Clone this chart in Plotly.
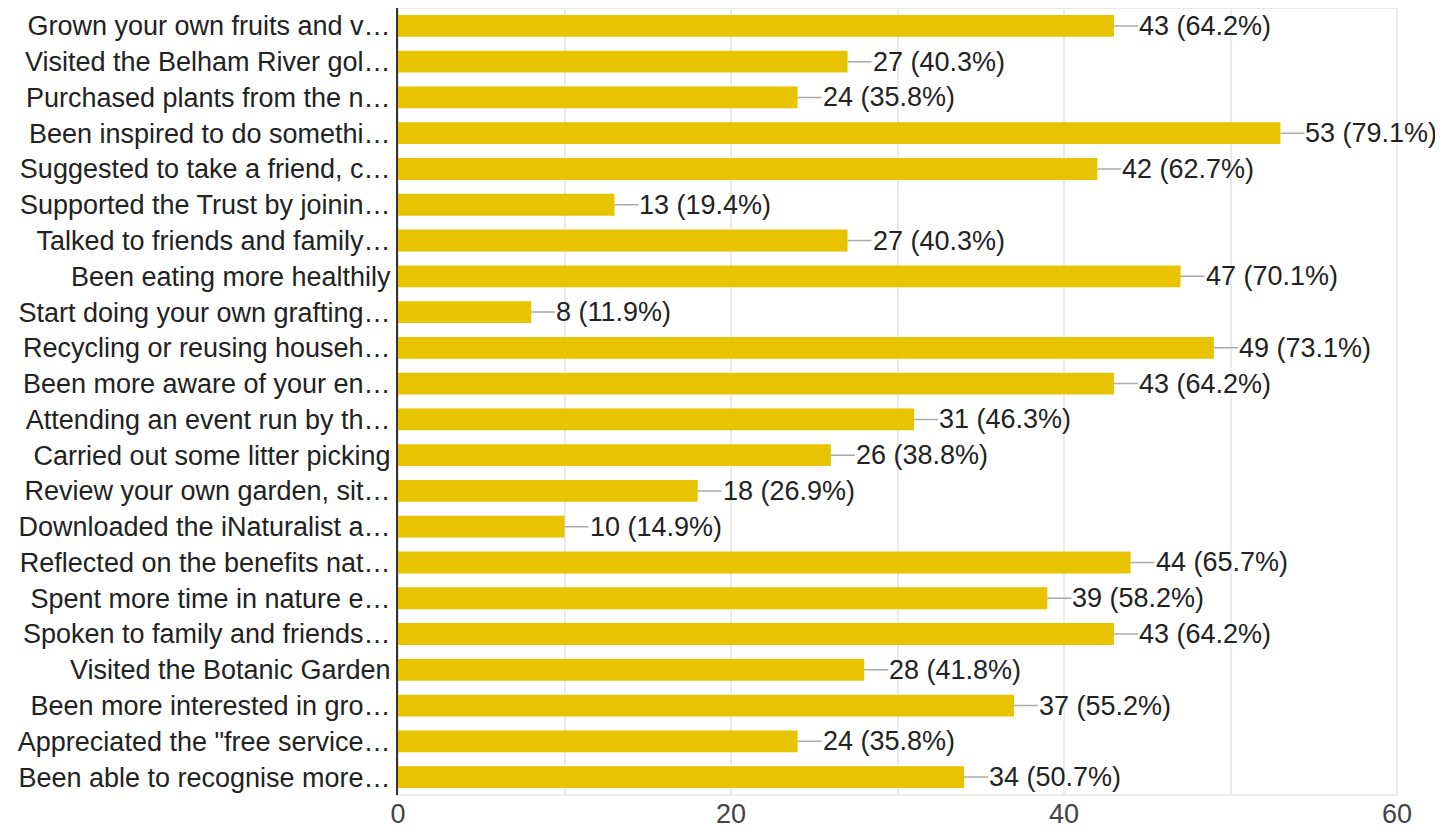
import plotly.graph_objects as go

categories = [
    "Grown your own fruits and v…",
    "Visited the Belham River gol…",
    "Purchased plants from the n…",
    "Been inspired to do somethi…",
    "Suggested to take a friend, c…",
    "Supported the Trust by joinin…",
    "Talked to friends and family…",
    "Been eating more healthily",
    "Start doing your own grafting…",
    "Recycling or reusing househ…",
    "Been more aware of your en…",
    "Attending an event run by th…",
    "Carried out some litter picking",
    "Review your own garden, sit…",
    "Downloaded the iNaturalist a…",
    "Reflected on the benefits nat…",
    "Spent more time in nature e…",
    "Spoken to family and friends…",
    "Visited the Botanic Garden",
    "Been more interested in gro…",
    "Appreciated the \"free service…",
    "Been able to recognise more…",
]
counts = [43, 27, 24, 53, 42, 13, 27, 47, 8, 49, 43, 31, 26, 18, 10, 44, 39, 43, 28, 37, 24, 34]
percents = ["64.2%", "40.3%", "35.8%", "79.1%", "62.7%", "19.4%", "40.3%", "70.1%", "11.9%", "73.1%",
            "64.2%", "46.3%", "38.8%", "26.9%", "14.9%", "65.7%", "58.2%", "64.2%", "41.8%", "55.2%",
            "35.8%", "50.7%"]
x_ticks = [0, 20, 40, 60]

FONT = "Liberation Sans, Arial, sans-serif"
BAR = "#E8C400"

fig = go.Figure(go.Bar(
    x=counts, y=categories, orientation="h",
    marker=dict(color=BAR, line=dict(width=0)),
    hoverinfo="skip",
))

for c, v, p in zip(categories, counts, percents):
    fig.add_annotation(
        x=v, y=c, xref="x", yref="y",
        text=f"{v} ({p})", showarrow=True, arrowhead=0,
        arrowcolor="#aaaaaa", arrowwidth=1.5,
        ax=24, ay=0, xanchor="left", yanchor="middle",
        borderpad=0, standoff=0,
        font=dict(family=FONT, size=27, color="#222222"),
    )

fig.add_shape(type="rect", xref="paper", yref="paper", x0=0, x1=1, y0=0, y1=1,
              line=dict(color="#e4e4e4", width=1.5), layer="below")

fig.update_layout(
    width=1443, height=838,
    margin=dict(l=390, r=54, t=0, b=51),
    paper_bgcolor="white", plot_bgcolor="white",
    bargap=0.39,
    showlegend=False,
    font=dict(family=FONT, size=27, color="#222222"),
    xaxis=dict(
        range=[0, 60], tickvals=x_ticks, ticktext=[str(t) for t in x_ticks],
        showgrid=True, gridcolor="#ebebeb", gridwidth=1.5,
        minor=dict(tickvals=[10, 30, 50], showgrid=True, gridcolor="#ebebeb", gridwidth=1.5),
        zeroline=False, showline=False, ticks="",
        tickfont=dict(family=FONT, size=27, color="#444444"),
        fixedrange=True,
    ),
    yaxis=dict(
        autorange="reversed", showgrid=False, zeroline=False,
        showline=True, linecolor="#333333", linewidth=2,
        ticks="", ticklabelstandoff=0,
        tickfont=dict(family=FONT, size=27, color="#222222"),
        fixedrange=True,
    ),
)

fig.write_html("out.html")
